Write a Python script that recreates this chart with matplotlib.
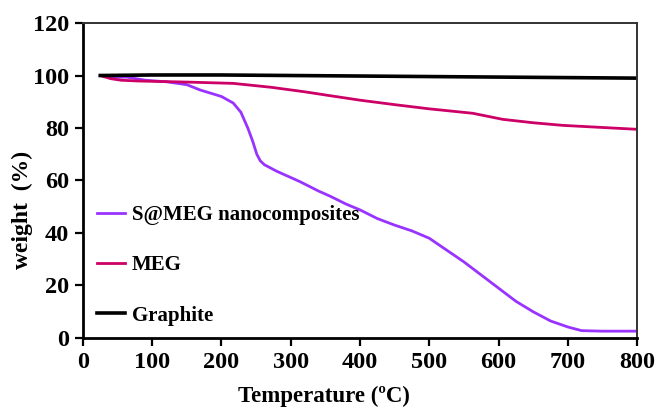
import matplotlib.pyplot as plt

plt.rcParams["font.family"] = ["Liberation Serif", "DejaVu Serif"]
plt.rcParams["font.weight"] = "bold"

# S@MEG nanocomposites
temp_s = [25, 45, 63, 90, 121, 150, 169, 200, 217, 228, 238, 245, 251, 256, 262,
          280, 313, 340, 357, 380, 400, 425, 450, 475, 500, 525, 550, 575, 600,
          625, 650, 675, 700, 720, 750, 800]
weight_s = [100, 99.3, 99.4, 98.2, 97.6, 96.5, 94.5, 92.0, 89.5, 86, 80, 75, 70, 67.5, 66,
            63.5, 59.6, 56, 54, 51, 48.8, 45.5, 43, 40.8, 38, 33.5, 29, 24, 19,
            14, 10, 6.5, 4.2, 2.8, 2.6, 2.6]

# MEG
temp_m = [25, 40, 55, 80, 150, 217, 272, 320, 357, 400, 453, 500, 563, 606, 650, 693, 750, 800]
weight_m = [100, 98.8, 98.2, 97.9, 97.5, 97.0, 95.5, 93.8, 92.3, 90.6, 88.8, 87.3, 85.6, 83.3, 82.0, 81.0, 80.2, 79.5]

# Graphite
temp_g = [25, 100, 200, 300, 400, 500, 600, 700, 800]
weight_g = [100, 100.2, 100.2, 100.0, 99.8, 99.6, 99.4, 99.2, 99.0]

x_ticks = [0, 100, 200, 300, 400, 500, 600, 700, 800]
y_ticks = [0, 20, 40, 60, 80, 100, 120]

fig = plt.figure(figsize=(6.57, 4.08), dpi=100)
ax = fig.add_axes([0.1263, 0.1716, 0.8433, 0.772])

ax.plot(temp_s, weight_s, color="#9933FF", lw=2, label="S@MEG nanocomposites")
ax.plot(temp_m, weight_m, color="#CC0066", lw=2, label="MEG")
ax.plot(temp_g, weight_g, color="black", lw=2.6, label="Graphite")

ax.set_xlim(0, 800)
ax.set_ylim(0, 120)
ax.set_xticks(x_ticks)
ax.set_yticks(y_ticks)
ax.tick_params(direction="out", length=6, width=1.6, labelsize=17.5, pad=4)
for lab in ax.get_xticklabels() + ax.get_yticklabels():
    lab.set_fontweight("bold")

for side in ["left", "bottom"]:
    ax.spines[side].set_linewidth(2)
for side in ["top", "right"]:
    ax.spines[side].set_linewidth(1.4)
    ax.spines[side].set_color("#333333")

ax.set_xlabel("Temperature (ºC)", fontsize=16.5, fontweight="bold")
ax.xaxis.set_label_coords(0.435, -0.152)
ax.set_ylabel("weight  (%)", fontsize=17, fontweight="bold")
ax.yaxis.set_label_coords(-0.09, 0.406)

leg = ax.legend(loc="lower left", bbox_to_anchor=(-0.008, -0.02), frameon=False,
                prop={"size": 15, "weight": "bold"}, handlelength=1.35,
                labelspacing=1.45, handletextpad=0.3, borderaxespad=0.5)

fig.savefig("out.png", dpi=100)
